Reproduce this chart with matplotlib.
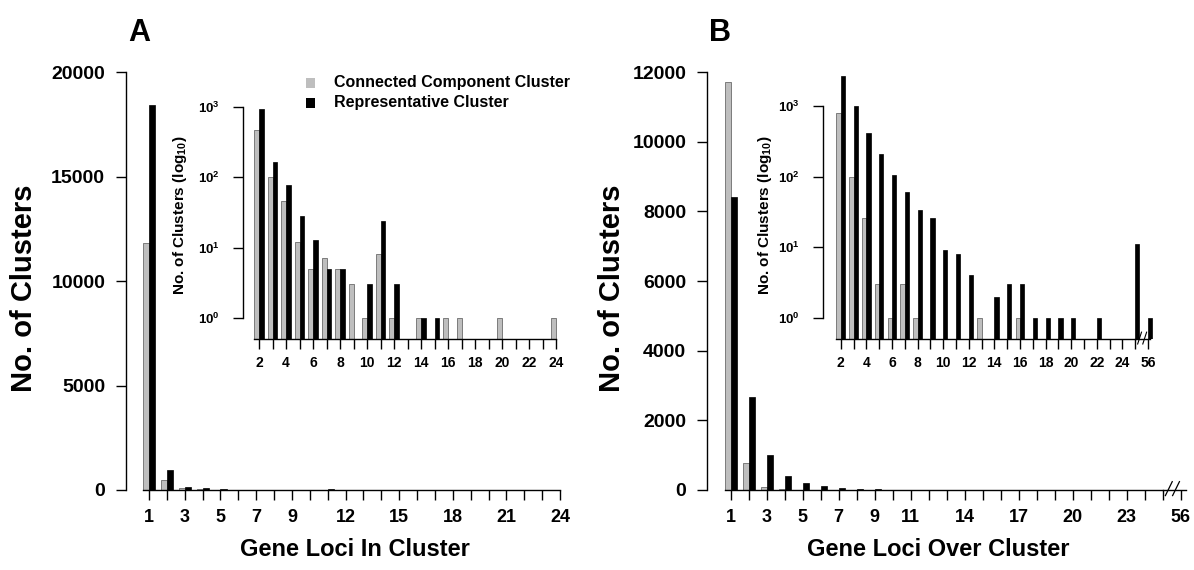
import matplotlib
matplotlib.use("Agg")
import matplotlib.pyplot as plt
import numpy as np

plt.rcParams["font.family"] = ["Liberation Sans", "DejaVu Sans"]
plt.rcParams["font.weight"] = "bold"
plt.rcParams["mathtext.fontset"] = "custom"
plt.rcParams["mathtext.rm"] = "Liberation Sans:bold"
plt.rcParams["mathtext.bf"] = "Liberation Sans:bold"

# ---- data: panel A (gene loci in cluster) ----
a_cats = list(range(1, 25))
a_connected = [11800, 465, 100, 46, 12, 5, 7, 5, 3, 1, 8, 1, 0, 1, 0, 1, 1, 0, 0, 1, 0, 0, 0, 1]
a_represent = [18400, 940, 166, 79, 28, 13, 5, 5, 0, 3, 24, 3, 0, 1, 1, 0, 0, 0, 0, 0, 0, 0, 0, 0]
a_main_labels = ["1", "3", "5", "7", "9", "12", "15", "18", "21", "24"]

# ---- data: panel B (gene loci over cluster) ----
b_cats = [str(i) for i in range(1, 26)] + ["56"]
b_connected = [11700, 787, 100, 26, 3, 1, 3, 1, 0, 0, 0, 0, 1, 0, 0, 1, 0, 0, 0, 0, 0, 0, 0, 0, 0, 0]
b_represent = [8400, 2660, 1000, 410, 210, 106, 60, 34, 26, 9, 8, 4, 0, 2, 3, 3, 1, 1, 1, 1, 0, 1, 0, 0, 11, 1]
b_main_labels = ["1", "3", "5", "7", "9", "11", "14", "17", "20", "23", "56"]

GRAY = "#bebebe"
W, H = 1194, 570


def box(x0, y0, x1, y1):
    return [x0 / W, 1 - y1 / H, (x1 - x0) / W, (y1 - y0) / H]


def r_style(ax, xbounds, ybounds, ticklen=7):
    for s in ("top", "right"):
        ax.spines[s].set_visible(False)
    ax.spines["left"].set_bounds(*ybounds)
    ax.spines["bottom"].set_bounds(*xbounds)
    ax.spines["left"].set_linewidth(1.0)
    ax.spines["bottom"].set_linewidth(1.0)
    ax.tick_params(length=ticklen, width=1.0, direction="out")
    ax.patch.set_alpha(0)


def pair_bars(ax, gray, black, w=0.34, bottom=0.0, log=False):
    x = np.arange(len(gray))
    g = np.array(gray, dtype=float)
    b = np.array(black, dtype=float)
    if log:
        mg, mb = g > 0, b > 0
        ax.bar(x[mg] - w / 2, g[mg] - bottom, w, bottom=bottom, color=GRAY,
               edgecolor="#555555", linewidth=0.5)
        ax.bar(x[mb] + w / 2, b[mb] - bottom, w, bottom=bottom, color="black",
               edgecolor="black", linewidth=0.5)
    else:
        ax.bar(x - w / 2, g, w, color=GRAY, edgecolor="#555555", linewidth=0.5)
        ax.bar(x + w / 2, b, w, color="black", edgecolor="black", linewidth=0.5)
    return x


fig = plt.figure(figsize=(W / 100, H / 100), dpi=100)

# ================= Panel A main =================
axA = fig.add_axes(box(126, 72, 566, 490))
xa = pair_bars(axA, a_connected, a_represent)
axA.set_xlim(-(149 - 126) / 17.87, (566 - 149) / 17.87)
axA.set_ylim(0, 20000)
axA.set_yticks([0, 5000, 10000, 15000, 20000])
axA.set_yticklabels(["0", "5000", "10000", "15000", "20000"], fontsize=14)
axA.set_xticks(xa)
axA.set_xticklabels([str(c) if str(c) in a_main_labels else "" for c in a_cats], fontsize=13)
axA.tick_params(axis="y", pad=8)
axA.tick_params(axis="x", pad=7)
r_style(axA, (-0.34, xa[-1]), (0, 20000))
fig.text(24 / W, 1 - 288 / H, "No. of Clusters", rotation=90, ha="center", va="center",
         fontsize=21, fontweight="bold")
fig.text(355 / W, 1 - 550 / H, "Gene Loci In Cluster", ha="center", va="center",
         fontsize=17, fontweight="bold")
fig.text(139 / W, 1 - 33 / H, "A", ha="center", va="center", fontsize=22, fontweight="bold")

# ================= Panel A inset (log) =================
iA = fig.add_axes(box(243, 75, 566, 339))
lo = 10 ** -0.30
xi = pair_bars(iA, a_connected[1:], a_represent[1:], w=0.34, bottom=lo, log=True)
iA.set_yscale("log")
iA.set_ylim(lo, 10 ** (3 + (107 - 75) / 70.3))
iA.set_xlim(-(259 - 243) / 13.5, (566 - 259) / 13.5)
iA.set_yticks([1, 10, 100, 1000])
iA.set_yticklabels([r"$\mathbf{10^{%d}}$" % k for k in range(4)], fontsize=9.5)
iA.yaxis.set_minor_locator(matplotlib.ticker.NullLocator())
iA.set_xticks(xi)
iA.set_xticklabels([str(c) if c % 2 == 0 else "" for c in a_cats[1:]], fontsize=10)
iA.tick_params(axis="y", pad=10)
iA.tick_params(axis="x", pad=5)
r_style(iA, (-0.34, xi[-1]), (1, 1000))
fig.text(180 / W, 1 - 215 / H, r"No. of Clusters (log$_{\mathbf{10}}$)", rotation=90,
         ha="center", va="center", fontsize=11, fontweight="bold")
# legend
for yy, col, lab in [(83, GRAY, "Connected Component Cluster"),
                     (103, "black", "Representative Cluster")]:
    fig.patches.append(plt.Rectangle((306 / W, 1 - (yy + 4.5) / H), 9 / W, 9 / H,
                                     transform=fig.transFigure, facecolor=col,
                                     edgecolor=col, linewidth=0))
    fig.text(334 / W, 1 - yy / H, lab, ha="left", va="center", fontsize=11.5,
             fontweight="bold")

# ================= Panel B main =================
axB = fig.add_axes(box(707, 72, 1190, 490))
xb = pair_bars(axB, b_connected, b_represent)
axB.set_xlim(-(730.7 - 707) / 18.0, (1190 - 730.7) / 18.0)
axB.set_ylim(0, 12000)
axB.set_yticks(range(0, 12001, 2000))
axB.set_yticklabels([str(v) for v in range(0, 12001, 2000)], fontsize=14)
axB.set_xticks(xb)
axB.set_xticklabels([c if c in b_main_labels else "" for c in b_cats], fontsize=13)
axB.tick_params(axis="y", pad=8)
axB.tick_params(axis="x", pad=7)
r_style(axB, (-0.34, xb[-2]), (0, 12000))
axB.plot([xb[-2], xb[-1] + 0.3], [0, 0], color="black", lw=1.0, clip_on=False)
for off in (0.15, 0.55):
    axB.plot([xb[-2] + off, xb[-2] + off + 0.38], [-160, 240], color="black",
             lw=0.9, clip_on=False)
fig.text(612 / W, 1 - 288 / H, "No. of Clusters", rotation=90, ha="center", va="center",
         fontsize=21, fontweight="bold")
fig.text(938 / W, 1 - 550 / H, "Gene Loci Over Cluster", ha="center", va="center",
         fontsize=17, fontweight="bold")
fig.text(720 / W, 1 - 33 / H, "B", ha="center", va="center", fontsize=22, fontweight="bold")

# ================= Panel B inset (log) =================
iB = fig.add_axes(box(823, 75, 1165, 339))
xj = pair_bars(iB, b_connected[1:], b_represent[1:], w=0.34, bottom=lo, log=True)
iB.set_yscale("log")
iB.set_ylim(lo, 10 ** (3 + (106 - 75) / 70.7))
iB.set_xlim(-(840.7 - 823) / 12.8, (1165 - 840.7) / 12.8)
iB.set_yticks([1, 10, 100, 1000])
iB.set_yticklabels([r"$\mathbf{10^{%d}}$" % k for k in range(4)], fontsize=9.5)
iB.yaxis.set_minor_locator(matplotlib.ticker.NullLocator())
iB.set_xticks(xj)
iB.set_xticklabels([c if (c == "56" or (int(c) % 2 == 0 and int(c) < 25)) else ""
                    for c in b_cats[1:]], fontsize=10)
iB.tick_params(axis="y", pad=10)
iB.tick_params(axis="x", pad=5)
r_style(iB, (-0.34, xj[-2]), (1, 1000))
iB.plot([xj[-2], xj[-1] + 0.2], [lo, lo], color="black", lw=1.0, clip_on=False)
for off in (0.2, 0.6):
    iB.plot([xj[-2] + off, xj[-2] + off + 0.3], [lo * 0.85, lo * 1.25], color="black",
            lw=0.8, clip_on=False)
fig.text(765 / W, 1 - 215 / H, r"No. of Clusters (log$_{\mathbf{10}}$)", rotation=90,
         ha="center", va="center", fontsize=11, fontweight="bold")

fig.savefig("out.png", dpi=100)
